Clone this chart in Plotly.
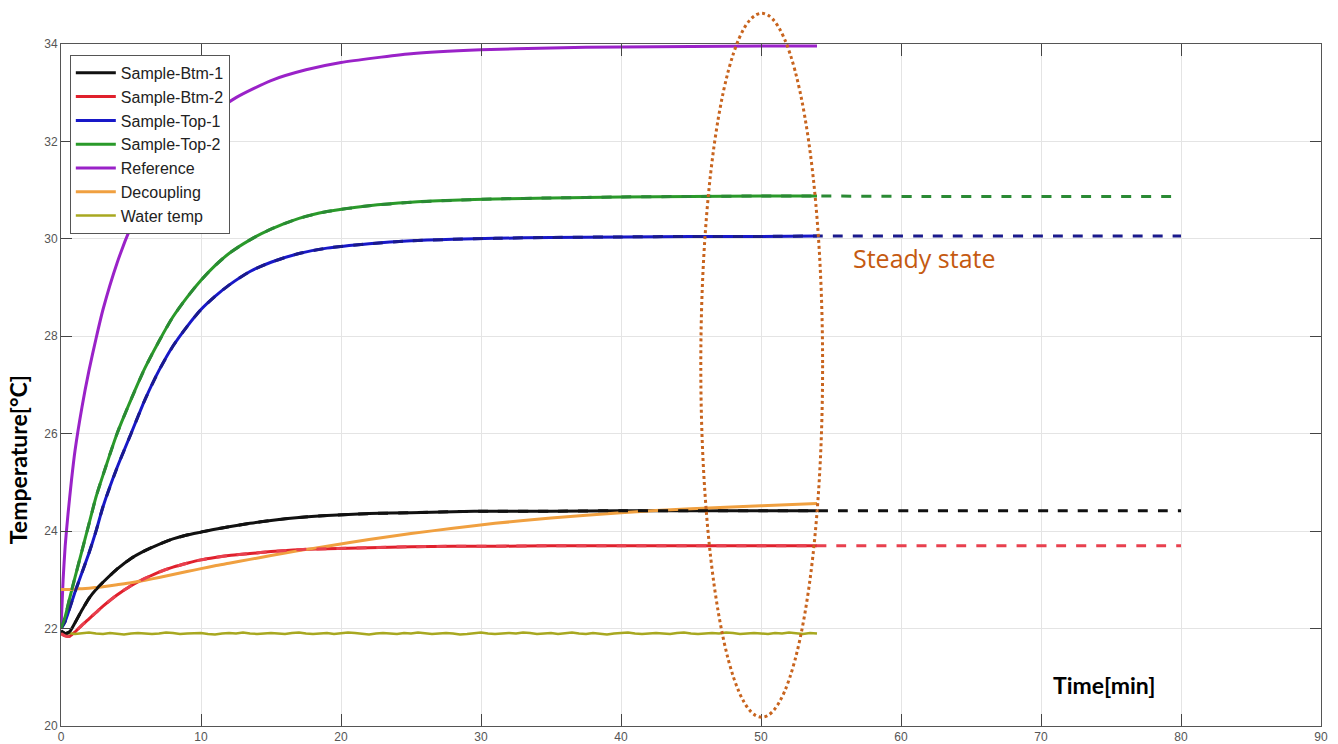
import plotly.graph_objects as go

# ---- measured data (solid lines) ----
T = [0, 0.3, 0.6, 1, 1.5, 2, 2.5, 3, 4, 5, 6, 7, 8, 9, 10, 11, 12, 13.5, 15, 17,
     19, 22, 25, 28, 31, 35, 40, 45, 50, 54]

btm1 = [21.95, 21.90, 21.93, 22.12, 22.38, 22.62, 22.80, 22.95, 23.22, 23.44, 23.60, 23.73,
        23.84, 23.92, 23.98, 24.04, 24.09, 24.16, 24.22, 24.28, 24.32, 24.36, 24.38, 24.40,
        24.41, 24.41, 24.42, 24.42, 24.42, 24.42]
btm2 = [21.90, 21.85, 21.84, 21.93, 22.07, 22.20, 22.33, 22.46, 22.69, 22.88, 23.03, 23.16,
        23.26, 23.34, 23.41, 23.46, 23.50, 23.54, 23.58, 23.62, 23.64, 23.66, 23.68, 23.69,
        23.69, 23.70, 23.70, 23.70, 23.70, 23.70]
top1 = [22.00, 22.15, 22.40, 22.75, 23.15, 23.55, 24.00, 24.50, 25.30, 26.00, 26.70, 27.30,
        27.80, 28.20, 28.55, 28.82, 29.05, 29.33, 29.52, 29.70, 29.81, 29.90, 29.96, 29.99,
        30.01, 30.03, 30.04, 30.05, 30.05, 30.06]
top2 = [22.00, 22.25, 22.60, 23.05, 23.60, 24.15, 24.70, 25.15, 26.00, 26.70, 27.35, 27.90,
        28.40, 28.80, 29.15, 29.45, 29.70, 29.98, 30.20, 30.42, 30.56, 30.68, 30.75, 30.79,
        30.82, 30.84, 30.86, 30.87, 30.88, 30.88]
decoupling = [22.80, 22.80, 22.80, 22.81, 22.82, 22.83, 22.845, 22.86, 22.90, 22.94, 22.99,
              23.05, 23.11, 23.17, 23.23, 23.29, 23.34, 23.42, 23.50, 23.60, 23.69, 23.83,
              23.95, 24.06, 24.16, 24.27, 24.38, 24.46, 24.52, 24.57]

T_REF = [0, 0.15, 0.3, 0.5, 0.75, 1, 1.5, 2, 2.5, 3, 4, 5, 6, 7, 8, 10, 12.5, 15, 17.5,
         20, 25, 30, 35, 40, 45, 50, 54]
reference = [22.00, 23.00, 23.70, 24.35, 25.05, 25.65, 26.55, 27.30, 27.95, 28.55, 29.50,
             30.25, 30.85, 31.35, 31.80, 32.40, 32.90, 33.25, 33.47, 33.62, 33.80, 33.88,
             33.92, 33.94, 33.95, 33.96, 33.96]

T_WATER = [i * 0.5 for i in range(109)]
water = [21.90, 21.91, 21.89, 21.90, 21.92, 21.90, 21.89, 21.91, 21.90, 21.88,
         21.90, 21.91, 21.90, 21.89, 21.90, 21.92, 21.91, 21.89, 21.90, 21.90,
         21.91, 21.89, 21.88, 21.90, 21.91, 21.90, 21.92, 21.90, 21.89, 21.90,
         21.91, 21.90, 21.89, 21.91, 21.92, 21.90, 21.89, 21.90, 21.91, 21.89,
         21.90, 21.92, 21.91, 21.90, 21.88, 21.90, 21.91, 21.90, 21.89, 21.91,
         21.90, 21.92, 21.90, 21.89, 21.90, 21.91, 21.90, 21.88, 21.89, 21.91,
         21.92, 21.90, 21.89, 21.90, 21.91, 21.90, 21.92, 21.91, 21.89, 21.90,
         21.91, 21.89, 21.90, 21.92, 21.90, 21.89, 21.91, 21.90, 21.88, 21.90,
         21.91, 21.92, 21.90, 21.89, 21.90, 21.91, 21.90, 21.89, 21.91, 21.92,
         21.90, 21.89, 21.90, 21.91, 21.90, 21.92, 21.91, 21.89, 21.90, 21.91,
         21.90, 21.89, 21.91, 21.90, 21.92, 21.90, 21.89, 21.91, 21.90]

# ---- fitted curves (dashed), extended to the steady state ----
T_EXT = [62, 71, 80]
steady_btm1, steady_btm2, steady_top1, steady_top2 = 24.42, 23.70, 30.06, 30.87

names = ["Sample-Btm-1", "Sample-Btm-2", "Sample-Top-1", "Sample-Top-2",
         "Reference", "Decoupling", "Water temp"]
colors = ["#111111", "#e0202c", "#1818c8", "#2a9a2a", "#9a22c8", "#f0a040", "#a8a820"]
fit_colors = ["#111111", "#e8404e", "#1a1a8c", "#2a8a34"]

fig = go.Figure()
series = [(T, btm1), (T, btm2), (T, top1), (T, top2), (T_REF, reference),
          (T, decoupling), (T_WATER, water)]
for (tx, vy), name, col in zip(series, names, colors):
    if name == "Water temp":
        ln = dict(color=col, width=2.5)
    else:
        ln = dict(color=col, width=3, shape="spline", smoothing=0.6)
    fig.add_trace(go.Scatter(x=tx, y=vy, name=name, mode="lines", line=ln))

fits = [(btm1, steady_btm1), (btm2, steady_btm2), (top1, steady_top1), (top2, steady_top2)]
for (vals, ss), col in zip(fits, fit_colors):
    fig.add_trace(go.Scatter(x=T + T_EXT, y=vals + [ss] * len(T_EXT), mode="lines",
                             showlegend=False, hoverinfo="skip",
                             line=dict(color=col, width=3, dash="10px,10px",
                                       shape="spline", smoothing=0.6)))

X_RANGE = [0, 90]
Y_RANGE = [20, 34]


def px_(x):
    return (x - X_RANGE[0]) / (X_RANGE[1] - X_RANGE[0])


def py_(y):
    return (y - Y_RANGE[0]) / (Y_RANGE[1] - Y_RANGE[0])


# steady-state highlight ellipse (data units)
ell_x0, ell_x1, ell_y0, ell_y1 = 45.7, 54.4, 20.18, 34.63
ORANGE = "#c8641e"

fig.update_layout(
    width=1338, height=744,
    margin=dict(l=61, r=17, t=44, b=18, autoexpand=False),
    paper_bgcolor="white", plot_bgcolor="white",
    font=dict(family="Liberation Sans, Arial, sans-serif", size=12, color="#444"),
    showlegend=True,
    legend=dict(x=0.007, y=0.984, xanchor="left", yanchor="top",
                bgcolor="white", bordercolor="#555", borderwidth=1,
                font=dict(family="Liberation Sans, Arial, sans-serif", size=16, color="#222"),
                itemwidth=40, tracegroupgap=0),
    xaxis=dict(range=X_RANGE, dtick=10, showgrid=True, gridcolor="#e4e4e4", gridwidth=1,
               ticks="inside", ticklen=12, tickcolor="#444", showline=True,
               linecolor="#555", linewidth=1, mirror="ticks", zeroline=False,
               automargin=False, tickfont=dict(size=12, color="#555")),
    yaxis=dict(range=Y_RANGE, dtick=2, showgrid=True, gridcolor="#e4e4e4", gridwidth=1,
               ticks="inside", ticklen=11, tickcolor="#444", showline=True,
               linecolor="#555", linewidth=1, mirror="ticks", zeroline=False,
               automargin=False, tickfont=dict(size=12, color="#555")),
    shapes=[
        dict(type="rect", xref="paper", yref="paper", layer="between",
             x0=px_(70) - 0.002, x1=px_(80.4), y0=0, y1=py_(21.4),
             fillcolor="white", line=dict(width=0)),
        dict(type="circle", xref="paper", yref="paper", layer="above",
             x0=px_(ell_x0), x1=px_(ell_x1), y0=py_(ell_y0), y1=py_(ell_y1),
             line=dict(color=ORANGE, width=3, dash="3px,3px")),
    ],
    annotations=[
        dict(text="<b>Time[min]</b>", xref="paper", yref="paper",
             x=px_(74.5), y=py_(20.85), xanchor="center", yanchor="middle",
             showarrow=False,
             font=dict(family="Lato, Open Sans, sans-serif", size=23, color="black")),
        dict(text="<b>Temperature[°C]</b>", xref="paper", yref="paper",
             x=-0.034, y=0.39, xanchor="center", yanchor="middle", textangle=-90,
             showarrow=False,
             font=dict(family="Lato, Open Sans, sans-serif", size=23, color="black")),
        dict(text="Steady state", xref="x", yref="y", x=61.7, y=29.6, showarrow=False,
             font=dict(family="Open Sans, sans-serif", size=25, color="#c55a11")),
    ],
)

fig.write_html("out.html")
